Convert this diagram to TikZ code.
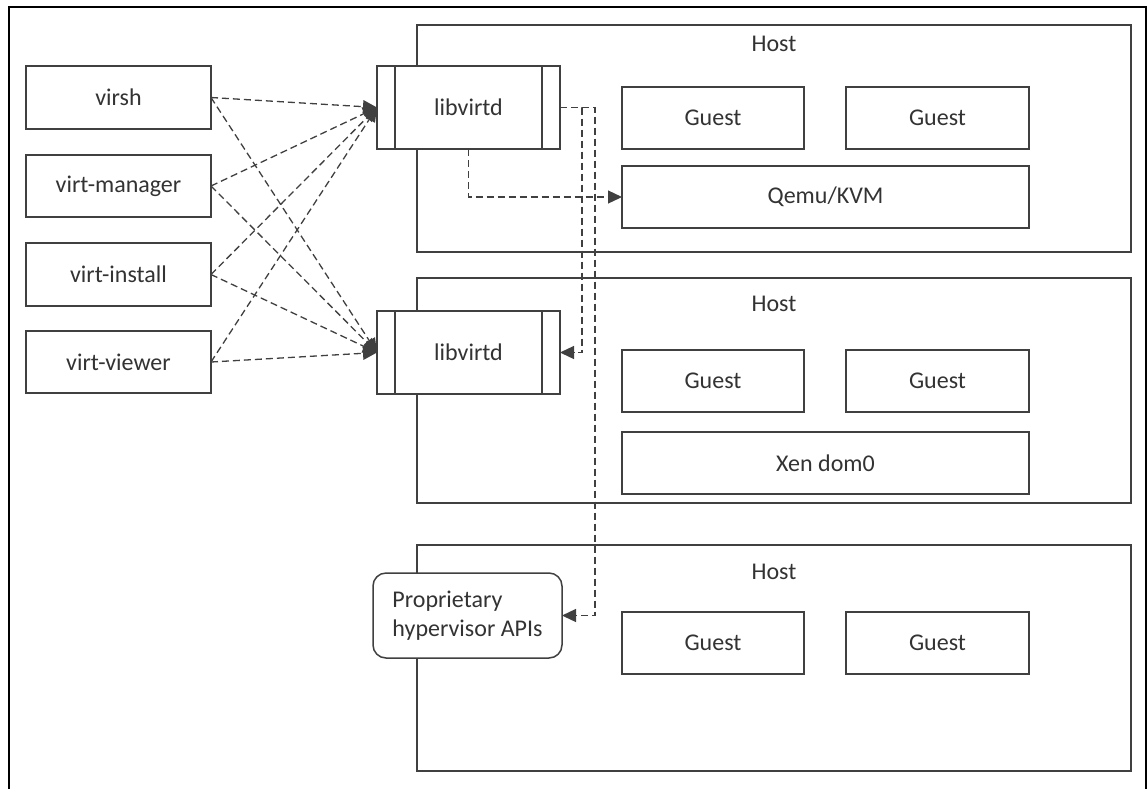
\documentclass[tikz,border=0pt]{standalone}
\usepackage{fontspec}
\setmainfont{Carlito}
\usetikzlibrary{arrows.meta}
\definecolor{ln}{HTML}{404040}
\definecolor{tx}{HTML}{333333}
\begin{document}
\begin{tikzpicture}[x=1pt,y=-1pt,
  box/.style={draw=ln, line width=1.5pt, rectangle, inner sep=0pt, outer sep=0pt,
    fill=white, text=tx, font=\fontsize{24}{29}\selectfont},
  hostbox/.style={draw=ln, line width=1.5pt, rectangle, inner sep=0pt, outer sep=0pt},
  lbl/.style={text=tx, inner sep=0pt, font=\fontsize{24}{29}\selectfont},
  conn/.style={draw=ln, line width=1.3pt, dash pattern=on 7pt off 4pt,
    -{Triangle[length=14pt,width=13pt]}}
]
\useasboundingbox (0,0) rectangle (1148,788);
\fill[white] (0,0) rectangle (1148,788);
\draw[line width=2.6pt, black] (9,790) -- (9,7) -- (1146,7) -- (1146,790);

% hosts
\node[hostbox, minimum width=714pt, minimum height=227pt] (host1) at (774,138.5) {};
\node[hostbox, minimum width=714pt, minimum height=225pt] (host2) at (774,390.5) {};
\node[hostbox, minimum width=714pt, minimum height=226pt] (host3) at (774,658) {};
\node[lbl] (host1l) at (774,44) {Host};
\node[lbl] (host2l) at (774,304) {Host};
\node[lbl] (host3l) at (774,572) {Host};

% guests
\node[box, minimum width=182pt, minimum height=62pt] (g11) at (713,118) {Guest};
\node[box, minimum width=183pt, minimum height=62pt] (g12) at (937.5,118) {Guest};
\node[box, minimum width=407pt, minimum height=62pt] (qemu) at (825.5,197) {Qemu/KVM};
\node[box, minimum width=182pt, minimum height=62pt] (g21) at (713,381) {Guest};
\node[box, minimum width=183pt, minimum height=62pt] (g22) at (937.5,381) {Guest};
\node[box, minimum width=407pt, minimum height=62pt] (xen) at (825.5,463) {Xen dom0};
\node[box, minimum width=182pt, minimum height=62pt] (g31) at (713,643) {Guest};
\node[box, minimum width=183pt, minimum height=62pt] (g32) at (937.5,643) {Guest};

% libvirtd
\node[box, minimum width=183pt, minimum height=83pt] (lv1) at (468.5,107.5) {libvirtd};
\node[box, minimum width=183pt, minimum height=83pt] (lv2) at (468.5,352.5) {libvirtd};
\foreach \n in {lv1,lv2}{
  \draw[draw=ln, line width=1.5pt] ([xshift=18pt]\n.north west) -- ([xshift=18pt]\n.south west);
  \draw[draw=ln, line width=1.5pt] ([xshift=-18pt]\n.north east) -- ([xshift=-18pt]\n.south east);
}

% proprietary
\node[box, rounded corners=13pt, minimum width=189pt, minimum height=85pt, align=left,
  font=\fontsize{24}{29}\selectfont] (prop) at (467.5,615.5) {Proprietary\\hypervisor APIs};

% tools
\node[box, minimum width=185pt, minimum height=63pt] (virsh) at (118.5,97.5) {virsh};
\node[box, minimum width=185pt, minimum height=62pt] (vman) at (118.5,186) {virt-manager};
\node[box, minimum width=185pt, minimum height=63pt] (vinst) at (118.5,274.5) {virt-install};
\node[box, minimum width=185pt, minimum height=62pt] (vview) at (118.5,362) {virt-viewer};

% connectors
\foreach \s in {virsh,vman,vinst,vview}{
  \draw[conn] (\s.east) -- (lv1.west);
  \draw[conn] (\s.east) -- (lv2.west);
}
\draw[conn] (lv1.south) |- (qemu.west);
\draw[conn] (lv1.east) -| ([xshift=22pt]lv2.east) -- (lv2.east);
\draw[conn] (lv1.east) -| ([xshift=33pt]prop.east) -- (prop.east);
\end{tikzpicture}
\end{document}
